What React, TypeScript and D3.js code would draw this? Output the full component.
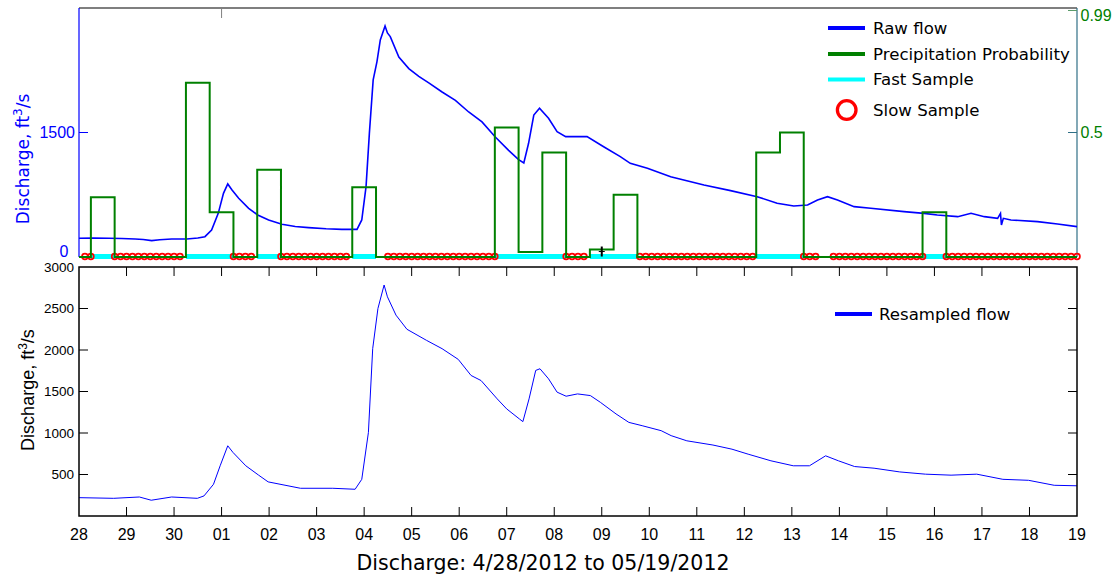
import React from 'react';
import * as d3 from 'd3';

const START = Date.UTC(2012, 3, 28);
const END = Date.UTC(2012, 4, 19);

// Raw flow (days since 4/28 00:00, ft3/s)
const rawDays = [0.0, 0.3, 0.62, 0.9, 1.18, 1.35, 1.53, 1.7, 1.95, 2.27, 2.5, 2.65, 2.79, 2.93, 3.04, 3.13, 3.22, 3.36, 3.57, 3.76, 3.99, 4.27, 4.55, 4.83, 5.2, 5.53, 5.85, 5.95, 6.04, 6.11, 6.19, 6.27, 6.34, 6.44, 6.49, 6.55, 6.73, 6.94, 7.15, 7.36, 7.64, 7.92, 8.2, 8.48, 8.76, 9.04, 9.25, 9.36, 9.46, 9.57, 9.69, 9.88, 10.06, 10.24, 10.45, 10.69, 11.04, 11.39, 11.6, 11.96, 12.45, 13.15, 13.71, 14.27, 14.69, 15.04, 15.33, 15.54, 15.75, 15.96, 16.31, 16.66, 17.36, 17.78, 18.06, 18.49, 18.77, 19.05, 19.33, 19.39, 19.41, 19.45, 19.61, 20.17, 20.59, 21.0];
const rawFlow = [225, 228, 225, 222, 217, 210, 197, 208, 217, 217, 228, 245, 325, 526, 767, 880, 808, 707, 587, 506, 446, 394, 368, 354, 340, 333, 333, 446, 848, 1490, 2133, 2354, 2615, 2783, 2700, 2655, 2410, 2270, 2177, 2097, 1988, 1888, 1747, 1627, 1446, 1285, 1173, 1133, 1370, 1711, 1792, 1671, 1510, 1450, 1450, 1450, 1329, 1209, 1129, 1069, 968, 868, 800, 727, 647, 615, 627, 687, 727, 687, 607, 587, 547, 526, 506, 486, 526, 486, 466, 526, 386, 466, 446, 426, 398, 366];

// Resampled flow
const resampDays = [0, 0.73, 1.27, 1.52, 1.95, 2.49, 2.63, 2.83, 2.97, 3.13, 3.24, 3.51, 3.78, 3.98, 4.66, 5.34, 5.81, 5.95, 6.09, 6.18, 6.29, 6.42, 6.49, 6.67, 6.9, 7.31, 7.64, 7.98, 8.25, 8.46, 8.8, 9.0, 9.27, 9.34, 9.47, 9.61, 9.7, 9.88, 10.06, 10.25, 10.49, 10.76, 10.97, 11.3, 11.57, 11.85, 12.25, 12.46, 12.79, 13.34, 13.74, 14.08, 14.56, 15.03, 15.37, 15.71, 15.98, 16.32, 16.73, 17.27, 17.81, 18.35, 18.89, 19.44, 19.98, 20.52, 21.0];
const resampFlow = [221, 213, 229, 190, 229, 213, 242, 382, 605, 846, 766, 605, 492, 411, 334, 334, 322, 442, 1007, 2016, 2500, 2783, 2641, 2420, 2250, 2117, 2016, 1887, 1693, 1632, 1411, 1290, 1168, 1137, 1411, 1754, 1774, 1653, 1492, 1443, 1471, 1451, 1370, 1230, 1128, 1088, 1028, 968, 906, 855, 805, 745, 665, 605, 605, 725, 665, 596, 576, 531, 504, 492, 504, 442, 430, 370, 364];

// Precipitation probability (step, value holds from each day to the next)
const precipDays = [0, 0.25, 0.75, 2.25, 2.75, 3.25, 3.75, 4.25, 5.75, 6.25, 8.75, 9.25, 9.75, 10.25, 10.75, 11.25, 11.75, 14.25, 14.75, 15.25, 17.75, 18.25, 21];
const precipProb = [0, 0.24, 0, 0.70, 0.18, 0, 0.35, 0, 0.28, 0, 0.52, 0.02, 0.42, 0, 0.03, 0.25, 0, 0.42, 0.50, 0, 0.18, 0, 0];

// Fast sample periods
const fastStart = [0.25, 2.25, 3.75, 5.75, 8.75, 10.75, 14.25, 17.75];
const fastEnd = [0.75, 3.25, 4.25, 6.25, 10.25, 11.75, 15.25, 18.25];

// Slow sample periods (every 3 hours)
const slowStart = [0.125, 0.75, 3.25, 4.25, 6.5, 10.25, 11.8, 15.25, 15.875, 18.25];
const slowEnd = [0.25, 2.125, 3.625, 5.625, 8.75, 10.625, 14.175, 15.5, 17.75, 21];
const slowStepDays = 0.125;

const markerDay = [11.0];
const markerProb = [0.022];

const leftTicksTop = [0, 1500];
const rightTicks = [0.5, 0.99];
const bottomYTicks = [500, 1000, 1500, 2000, 2500, 3000];

const NUM_FONT = "'Liberation Sans', Arial, sans-serif";
const TXT_FONT = "'DejaVu Sans', Verdana, sans-serif";

export default function App() {
  const W = 1117, H = 576;
  const L = 79, R = 1077;
  const topT = 8, topB = 257, botT = 267, botB = 516;

  const toDate = (d: number) => new Date(START + d * 864e5);
  const x = d3.scaleUtc().domain([new Date(START), new Date(END)]).range([L, R]);
  const yTop = d3.scaleLinear().domain([0, 3000]).range([topB, topT]);
  const yProb = d3.scaleLinear().domain([0, 1]).range([topB, topT]);
  const yBot = d3.scaleLinear().domain([0, 3000]).range([botB, botT]);

  const rawLine = d3.line<number>().x((_, i) => x(toDate(rawDays[i]))).y((v) => yTop(v));
  const resLine = d3.line<number>().x((_, i) => x(toDate(resampDays[i]))).y((v) => yBot(v));
  const precipLine = d3.line<number>().x((_, i) => x(toDate(precipDays[i]))).y((v) => yProb(v)).curve(d3.curveStepAfter);

  const slowTimes: number[] = [];
  slowStart.forEach((s, i) => {
    for (let t = s; t <= slowEnd[i] + 1e-9; t += slowStepDays) slowTimes.push(t);
  });

  const days = d3.utcDay.range(new Date(START), new Date(END + 1000));
  const fmt = d3.utcFormat('%d');

  return (
    <svg width={W} height={H} style={{ position: 'absolute', left: 0, top: 0, background: '#fff' }}>
      <defs>
        <clipPath id="topclip"><rect x={L} y={topT} width={R - L} height={topB - topT} /></clipPath>
        <clipPath id="botclip"><rect x={L} y={botT} width={R - L} height={botB - botT} /></clipPath>
      </defs>

      {/* ---------- TOP PANEL ---------- */}
      <line x1={L} x2={R} y1={topT} y2={topT} stroke="#000" strokeWidth={1.2} />
      <line x1={x(toDate(3))} x2={x(toDate(3))} y1={topT} y2={topT + 10} stroke="#808080" strokeWidth={1} />
      <line x1={L} x2={L} y1={topT} y2={topB} stroke="#0000ff" strokeWidth={1.2} />
      <line x1={R} x2={R} y1={topT} y2={topB} stroke="#2f6f86" strokeWidth={1.2} />
      {leftTicksTop.map((t) => (
        <g key={'lt' + t}>
          <line x1={L} x2={L + 9} y1={yTop(t)} y2={yTop(t)} stroke="#0000ff" strokeWidth={1} />
          <text x={t === 0 ? 68.5 : 75} y={t === 0 ? 257 : yTop(t) + 5.7} textAnchor="end" fontFamily={NUM_FONT} fontSize={16} fill="#0000ff">{t}</text>
        </g>
      ))}
      {rightTicks.map((t) => (
        <g key={'rt' + t}>
          <line x1={R - 9} x2={R} y1={yProb(t)} y2={yProb(t)} stroke={t > 0.9 ? '#5a9a6a' : '#2f6f86'} strokeWidth={1} />
          <text x={1080.5} y={t > 0.9 ? 20.7 : yProb(t) + 5.7} fontFamily={NUM_FONT} fontSize={16} fill="#008000">{String(t)}</text>
        </g>
      ))}
      <text transform="translate(28.5,159) rotate(-90)" textAnchor="middle" fontFamily={TXT_FONT} fontSize={17} fill="#0000ff">
        Discharge, ft<tspan dy={-7} fontSize={12}>3</tspan><tspan dy={7}>/s</tspan>
      </text>

      <g clipPath="url(#topclip)">
        <path d={rawLine(rawFlow) || ''} fill="none" stroke="#0000ff" strokeWidth={1.6} />
      </g>
      {fastStart.map((s, i) => (
        <line key={'f' + i} x1={x(toDate(s))} x2={x(toDate(fastEnd[i]))} y1={yProb(0) - 0.5} y2={yProb(0) - 0.5} stroke="#00ffff" strokeWidth={5} />
      ))}
      {slowTimes.map((t, i) => (
        <circle key={'s' + i} cx={x(toDate(t))} cy={yProb(0) - 0.5} r={2.9} fill="none" stroke="#ff0000" strokeWidth={1.7} />
      ))}
      <path d={precipLine(precipProb) || ''} fill="none" stroke="#008000" strokeWidth={2} />
      {markerDay.map((d, i) => (
        <g key={'m' + i}>
          <line x1={x(toDate(d))} x2={x(toDate(d))} y1={yProb(markerProb[i]) - 5} y2={yProb(markerProb[i]) + 5} stroke="#000" strokeWidth={2} />
          <line x1={x(toDate(d)) - 3} x2={x(toDate(d)) + 3} y1={yProb(markerProb[i])} y2={yProb(markerProb[i])} stroke="#000" strokeWidth={1} />
        </g>
      ))}

      {/* top legend */}
      <g fontFamily={TXT_FONT} fontSize={16.6} fill="#000">
        <line x1={828} x2={865} y1={28} y2={28} stroke="#0000ff" strokeWidth={4} />
        <text x={873} y={34}>Raw flow</text>
        <line x1={828} x2={865} y1={54} y2={54} stroke="#008000" strokeWidth={4} />
        <text x={873} y={60}>Precipitation Probability</text>
        <line x1={828} x2={865} y1={79.5} y2={79.5} stroke="#00ffff" strokeWidth={4} />
        <text x={873} y={85.4}>Fast Sample</text>
        <circle cx={846.7} cy={110} r={9.3} fill="none" stroke="#ff0000" strokeWidth={3.3} />
        <text x={873} y={116}>Slow Sample</text>
      </g>

      {/* ---------- BOTTOM PANEL ---------- */}
      <g clipPath="url(#botclip)">
        <path d={resLine(resampFlow) || ''} fill="none" stroke="#0000ff" strokeWidth={1} />
      </g>
      <rect x={L} y={botT} width={R - L} height={botB - botT} fill="none" stroke="#000" strokeWidth={1.5} />
      {days.map((d, i) => (
        <g key={'x' + i}>
          {i > 0 && i < days.length - 1 && (
            <>
              <line x1={x(d)} x2={x(d)} y1={botB} y2={botB - 9} stroke="#000" strokeWidth={1} />
              <line x1={x(d)} x2={x(d)} y1={botT} y2={botT + 9} stroke="#000" strokeWidth={1} />
            </>
          )}
          <text x={x(d)} y={540} textAnchor="middle" fontFamily={NUM_FONT} fontSize={16} fill="#000">{fmt(d)}</text>
        </g>
      ))}
      {bottomYTicks.map((t) => (
        <g key={'by' + t}>
          {t < 3000 && (
            <>
              <line x1={L} x2={L + 9} y1={yBot(t)} y2={yBot(t)} stroke="#000" strokeWidth={1} />
              <line x1={R - 9} x2={R} y1={yBot(t)} y2={yBot(t)} stroke="#000" strokeWidth={1} />
            </>
          )}
          <text x={74} y={yBot(t) + 4.8} textAnchor="end" fontFamily={NUM_FONT} fontSize={13.5} fill="#000">{t}</text>
        </g>
      ))}
      <text transform="translate(33.5,390) rotate(-90)" textAnchor="middle" fontFamily={NUM_FONT} fontSize={18} fill="#000">
        Discharge, ft<tspan dy={-7} fontSize={12}>3</tspan><tspan dy={7}>/s</tspan>
      </text>

      {/* bottom legend */}
      <line x1={835} x2={872} y1={314} y2={314} stroke="#0000ff" strokeWidth={4} />
      <text x={879} y={319.5} fontFamily={TXT_FONT} fontSize={16.6} fill="#000">Resampled flow</text>

      {/* title */}
      <text x={543} y={570} textAnchor="middle" fontFamily={TXT_FONT} fontSize={20.5} fill="#000">Discharge: 4/28/2012 to 05/19/2012</text>
    </svg>
  );
}
